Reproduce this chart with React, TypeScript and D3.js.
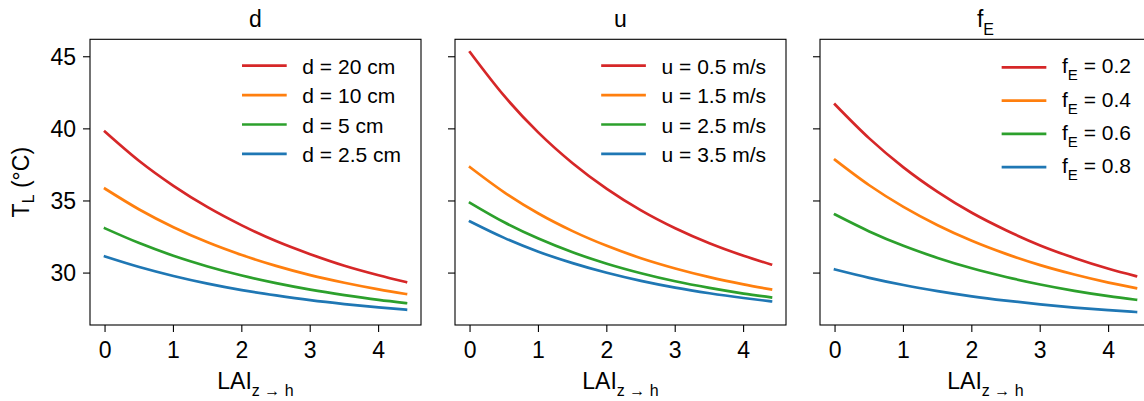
import { useEffect, useRef } from "react";
import * as d3 from "d3";

// x values shared by every curve
const lai = [0, 0.5, 1, 1.5, 2, 2.5, 3, 3.5, 4, 4.4];

// panel "d" (leaf dimension)
const dLabels = ["d = 20 cm", "d = 10 cm", "d = 5 cm", "d = 2.5 cm"];
const tlD20 = [39.8, 37.77, 36.05, 34.57, 33.31, 32.22, 31.31, 30.51, 29.85, 29.38];
const tlD10 = [35.85, 34.41, 33.18, 32.13, 31.25, 30.5, 29.86, 29.33, 28.87, 28.55];
const tlD5 = [33.1, 32.08, 31.2, 30.46, 29.83, 29.3, 28.85, 28.47, 28.14, 27.92];
const tlD25 = [31.15, 30.42, 29.8, 29.27, 28.82, 28.45, 28.12, 27.85, 27.62, 27.46];

// panel "u" (wind speed)
const uLabels = ["u = 0.5 m/s", "u = 1.5 m/s", "u = 2.5 m/s", "u = 3.5 m/s"];
const tlU05 = [45.31, 42.28, 39.74, 37.62, 35.84, 34.35, 33.11, 32.07, 31.2, 30.6];
const tlU15 = [37.34, 35.6, 34.13, 32.91, 31.89, 31.03, 30.32, 29.72, 29.22, 28.87];
const tlU25 = [34.87, 33.52, 32.39, 31.44, 30.65, 29.99, 29.43, 28.97, 28.58, 28.31];
const tlU35 = [33.58, 32.44, 31.48, 30.69, 30.02, 29.46, 28.99, 28.6, 28.27, 28.04];

// panel "fE"
const fELabels = ["0.2", "0.4", "0.6", "0.8"];
const tlF02 = [41.69, 39.34, 37.33, 35.63, 34.18, 32.97, 31.92, 31.05, 30.3, 29.79];
const tlF04 = [37.85, 36.09, 34.59, 33.32, 32.24, 31.33, 30.55, 29.9, 29.34, 28.96];
const tlF06 = [34.06, 32.89, 31.89, 31.05, 30.33, 29.73, 29.21, 28.77, 28.4, 28.15];
const tlF08 = [30.25, 29.67, 29.17, 28.75, 28.39, 28.09, 27.83, 27.61, 27.43, 27.3];

const xTicks = [0, 1, 2, 3, 4];
const yTicks = [30, 35, 40, 45];
const colors = ["#d62728", "#ff7f0e", "#2ca02c", "#1f77b4"];

type Label = { main: string; sub?: string; rest?: string };

const panels: { title: Label; labels: Label[]; series: number[][] }[] = [
  { title: { main: "d" }, labels: dLabels.map((l) => ({ main: l })), series: [tlD20, tlD10, tlD5, tlD25] },
  { title: { main: "u" }, labels: uLabels.map((l) => ({ main: l })), series: [tlU05, tlU15, tlU25, tlU35] },
  {
    title: { main: "f", sub: "E" },
    labels: fELabels.map((l) => ({ main: "f", sub: "E", rest: ` = ${l}` })),
    series: [tlF02, tlF04, tlF06, tlF08],
  },
];

const FONT = "'Liberation Sans', Arial, sans-serif";

function writeLabel(text: any, label: Label, size: number, subSize: number, shift: number) {
  text.append("tspan").attr("font-size", size).text(label.main);
  if (label.sub) {
    text.append("tspan").attr("font-size", subSize).attr("dy", shift).text(label.sub);
    if (label.rest) text.append("tspan").attr("font-size", size).attr("dy", -shift).text(label.rest);
  } else if (label.rest) {
    text.append("tspan").attr("font-size", size).text(label.rest);
  }
}

export default function App() {
  const ref = useRef<SVGSVGElement>(null);

  useEffect(() => {
    document.body.style.margin = "0";
    const svg = d3.select(ref.current);
    svg.selectAll("*").remove();

    const width = 1144;
    const height = 401;
    const top = 39.3;
    const bottom = 325;
    const panelW = 331;
    const lefts = [90, 455, 820];

    // shared y scale, matplotlib style 5% margins
    const all = panels.flatMap((p) => p.series.flat());
    const [lo, hi] = d3.extent(all) as [number, number];
    const y = d3
      .scaleLinear()
      .domain([lo - 0.05 * (hi - lo), hi + 0.05 * (hi - lo)])
      .range([bottom, top]);

    const [x0, x1] = d3.extent(lai) as [number, number];
    const xPad = 0.05 * (x1 - x0);

    svg.attr("width", width).attr("height", height);

    panels.forEach((p, pi) => {
      const left = lefts[pi];
      const right = left + panelW;
      const x = d3.scaleLinear().domain([x0 - xPad, x1 + xPad]).range([left, right]);
      const g = svg.append("g");

      // curves
      const line = d3
        .line<number>()
        .x((_, i) => x(lai[i]))
        .y((d) => y(d))
        .curve(d3.curveMonotoneX);
      p.series.forEach((s, si) => {
        g.append("path")
          .attr("d", line(s))
          .attr("fill", "none")
          .attr("stroke", colors[si])
          .attr("stroke-width", 2.7)
          .attr("stroke-linecap", "square");
      });

      // frame
      g.append("rect")
        .attr("x", left)
        .attr("y", top)
        .attr("width", panelW)
        .attr("height", bottom - top)
        .attr("fill", "none")
        .attr("stroke", "#000")
        .attr("stroke-width", 1.1);

      // x ticks
      xTicks.forEach((t) => {
        g.append("line")
          .attr("x1", x(t))
          .attr("x2", x(t))
          .attr("y1", bottom)
          .attr("y2", bottom + 7)
          .attr("stroke", "#000")
          .attr("stroke-width", 1.1);
        g.append("text")
          .attr("x", x(t))
          .attr("y", 358)
          .attr("text-anchor", "middle")
          .attr("font-family", FONT)
          .attr("font-size", 23)
          .text(t);
      });

      // y ticks (labels only on the first panel)
      yTicks.forEach((t) => {
        g.append("line")
          .attr("x1", left - 7)
          .attr("x2", left)
          .attr("y1", y(t))
          .attr("y2", y(t))
          .attr("stroke", "#000")
          .attr("stroke-width", 1.1);
        if (pi === 0) {
          g.append("text")
            .attr("x", left - 14)
            .attr("y", y(t) + 8.2)
            .attr("text-anchor", "end")
            .attr("font-family", FONT)
            .attr("font-size", 23)
            .text(t);
        }
      });

      // title
      const title = g
        .append("text")
        .attr("x", (left + right) / 2)
        .attr("y", 27)
        .attr("text-anchor", "middle")
        .attr("font-family", FONT);
      writeLabel(title, p.title, 23, 16, 7.5);

      // x label
      const xl = g
        .append("text")
        .attr("x", (left + right) / 2)
        .attr("y", 389)
        .attr("text-anchor", "middle")
        .attr("font-family", FONT);
      writeLabel(xl, { main: "LAI", sub: "z \u2192 h" }, 23, 16, 7.4);

      // legend, anchored to the upper right corner
      const hasSub = p.labels.some((l) => l.sub);
      const rowStart = hasSub ? 67.3 : 65.7;
      const rowGap = hasSub ? 33.3 : 29.4;
      const baseOff = hasSub ? 6 : 8.3;
      const leg = g.append("g");
      const texts = p.labels.map((l, li) => {
        const t = leg
          .append("text")
          .attr("y", rowStart + li * rowGap + baseOff)
          .attr("font-family", FONT);
        writeLabel(t, l, 21, 15, 7);
        return t;
      });
      const maxW = d3.max(texts, (t) => (t.node() as SVGTextElement).getComputedTextLength()) || 0;
      const textX = right - 20 - maxW;
      const handleX = textX - 60;
      texts.forEach((t) => t.attr("x", textX));
      p.labels.forEach((_, li) => {
        leg
          .append("line")
          .attr("x1", handleX + 1)
          .attr("x2", handleX + 43)
          .attr("y1", rowStart + li * rowGap)
          .attr("y2", rowStart + li * rowGap)
          .attr("stroke", colors[li])
          .attr("stroke-width", 2.7)
          .attr("stroke-linecap", "square");
      });
    });

    // shared y label
    const yl = svg
      .append("text")
      .attr("transform", `translate(29,${(top + bottom) / 2}) rotate(-90)`)
      .attr("text-anchor", "middle")
      .attr("font-family", FONT);
    writeLabel(yl, { main: "T", sub: "L", rest: " (\u00b0C)" }, 23, 16, 5);
  }, []);

  return <svg ref={ref} style={{ display: "block", background: "#fff" }} />;
}
